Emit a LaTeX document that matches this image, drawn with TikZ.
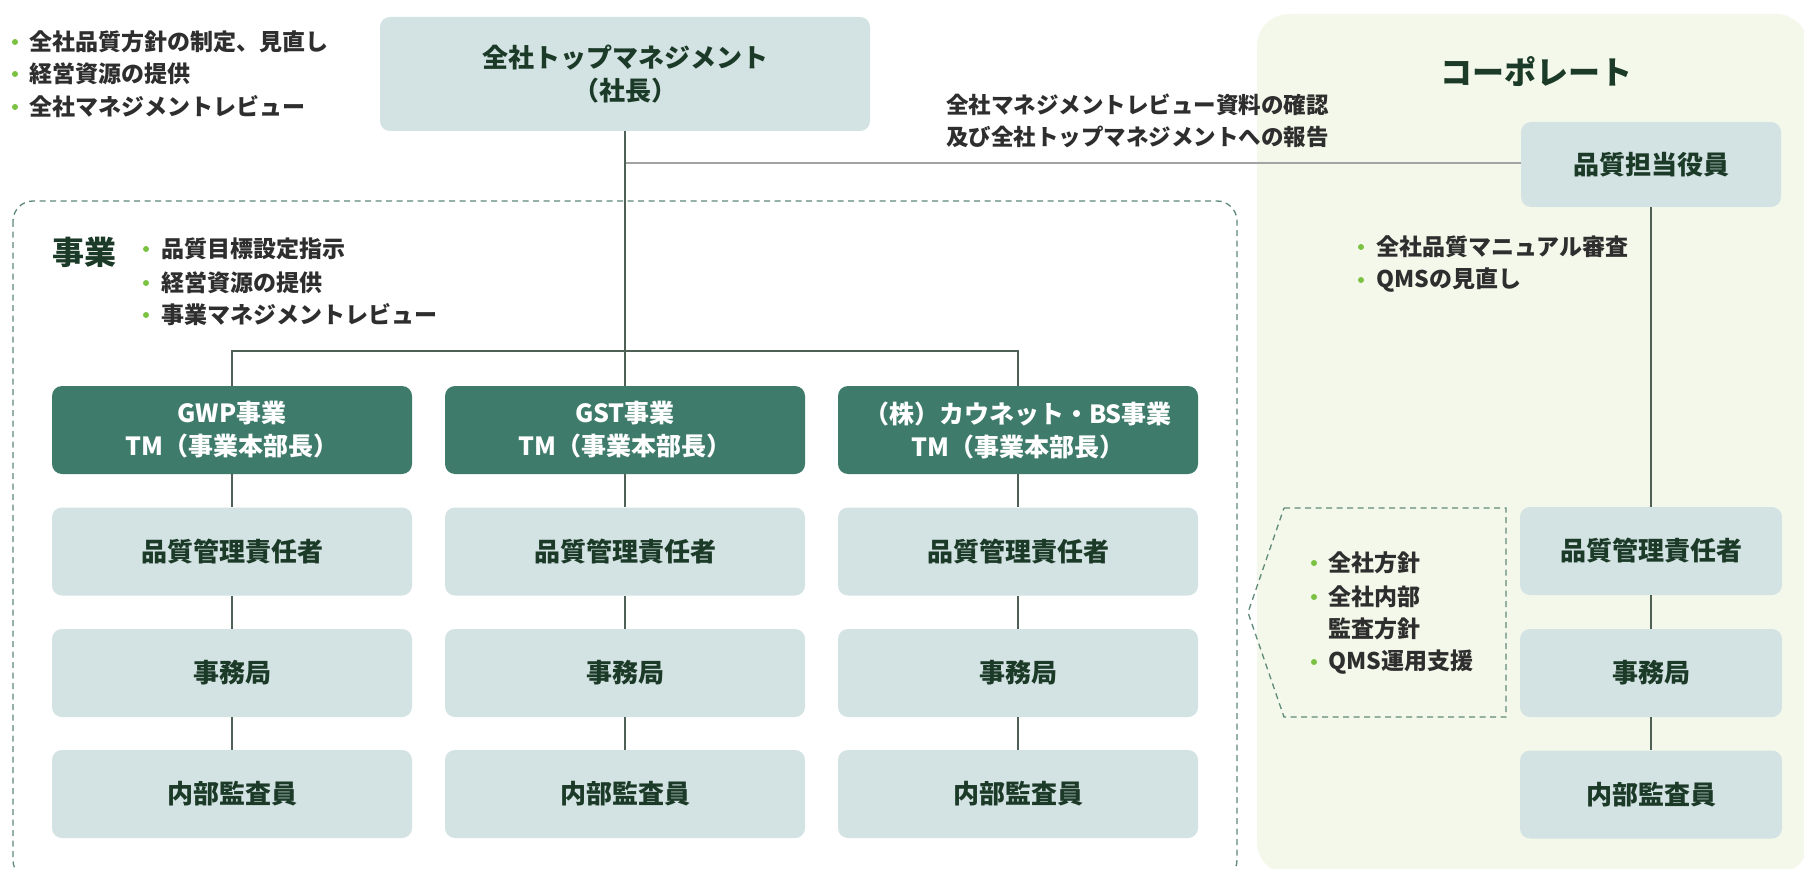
\documentclass[tikz,border=0pt]{standalone}
\usepackage{fontspec}
\setmainfont{Noto Sans CJK JP}
\definecolor{boxc}{HTML}{D3E2E2}
\definecolor{headc}{HTML}{3E7B6A}
\definecolor{darkt}{HTML}{1C3A28}
\definecolor{bullt}{HTML}{2E2E2E}
\definecolor{bulc}{HTML}{7CC242}
\definecolor{corpbg}{HTML}{F4F8EA}
\definecolor{linec}{HTML}{4F6157}
\definecolor{revc}{HTML}{A3A3A3}
\definecolor{dashc}{HTML}{5F8A7A}
\begin{document}
\begin{tikzpicture}[x=1pt,y=-1pt,
  lbox/.style={rounded corners=10pt, fill=boxc, minimum width=360pt, minimum height=88pt,
    font=\bfseries\fontsize{26}{33}\selectfont, text=darkt, align=center, inner sep=0pt},
  hbox/.style={lbox, fill=headc, text=white, font=\bfseries\fontsize{25}{33}\selectfont},
  cbox/.style={lbox, minimum width=262pt},
  conn/.style={draw=linec, line width=1.2pt},
  btxt/.style={anchor=west, font=\bfseries\fontsize{23}{30}\selectfont, text=bullt, inner sep=0pt},
  bdot/.style={fill=bulc},
  dashline/.style={draw=dashc, line width=1.3pt, dash pattern=on 6pt off 4.5pt}
]
\useasboundingbox (0,0) rectangle (1804,869);
\fill[white] (0,0) rectangle (1804,869);

% corporate background
\fill[corpbg, rounded corners=32pt] (1257,14) rectangle (1808,874);

% business dashed frame
\draw[dashline, rounded corners=20pt] (13,201) rectangle (1237,880);

% top management
\node[lbox, minimum width=490pt, minimum height=114pt] (top) at (625,74) {全社トップマネジメント\\（社長）};

% top-left bullets
\foreach \t/\y [count=\i] in {全社品質方針の制定、見直し/42, 経営資源の提供/74, 全社マネジメントレビュー/107}{
  \fill[bdot] (15,\y) circle (3pt);
  \node[btxt] (tl\i) at (29,\y) {\t};
}

% review label
\node[anchor=west, align=left, inner sep=0pt, text=bullt,
  font=\bfseries\fontsize{22.5}{32}\selectfont] (rev) at (946,121)
  {全社マネジメントレビュー資料の確認\\及び全社トップマネジメントへの報告};

% corporate
\node[font=\bfseries\fontsize{32}{36}\selectfont, text=darkt, inner sep=0pt] (corp) at (1536,72) {コーポレート};
\node[cbox, minimum width=260pt, minimum height=85pt] (qexec) at (1651,164.5) {品質担当役員};
\foreach \t/\y [count=\i] in {全社品質マニュアル審査/247, QMSの見直し/280}{
  \fill[bdot] (1361,\y) circle (3pt);
  \node[btxt] (cb\i) at (1376,\y) {\t};
}
\node[cbox] (cq) at (1651,551) {品質管理責任者};
\node[cbox] (cs) at (1651,673) {事務局};
\node[cbox] (ca) at (1651,794.5) {内部監査員};

% dashed pentagon
\draw[dashline] (1284,508) -- (1506,508) -- (1506,717) -- (1284,717) -- (1248,612.5) -- cycle;
\fill[bdot] (1314,563) circle (3pt);
\node[btxt] (p1) at (1328,563) {全社方針};
\fill[bdot] (1314,597) circle (3pt);
\node[btxt] (p2) at (1328,597) {全社内部};
\node[btxt] (p3) at (1328,629) {監査方針};
\fill[bdot] (1314,662) circle (3pt);
\node[btxt] (p4) at (1328,662) {QMS運用支援};

% business heading
\node[font=\bfseries\fontsize{32}{36}\selectfont, text=darkt, inner sep=0pt] (biz) at (84,252) {事業};
\foreach \t/\y [count=\i] in {品質目標設定指示/249, 経営資源の提供/283, 事業マネジメントレビュー/315}{
  \fill[bdot] (146,\y) circle (3pt);
  \node[btxt] (bb\i) at (161,\y) {\t};
}

% columns
\node[hbox] (h1) at (232,430) {GWP事業\\TM（事業本部長）};
\node[hbox] (h2) at (625,430) {GST事業\\TM（事業本部長）};
\node[hbox] (h3) at (1018,430) {（株）カウネット・BS事業\\TM（事業本部長）};
\foreach \c/\x in {1/232, 2/625, 3/1018}{
  \node[lbox] (q\c) at (\x,551.5) {品質管理責任者};
  \node[lbox] (s\c) at (\x,673) {事務局};
  \node[lbox] (a\c) at (\x,794) {内部監査員};
}

% connectors
\coordinate (bus) at (625,351);
\coordinate (revj) at (625,163);
\draw[draw=revc, line width=2.2pt] (revj) -- (qexec.west |- revj);
\draw[conn] (top.south) -- (h2.north);
\draw[conn] (h1.north) -- (h1.north |- bus) -- (h3.north |- bus) -- (h3.north);
\foreach \c in {1,2,3}{
  \draw[conn] (h\c.south) -- (q\c.north);
  \draw[conn] (q\c.south) -- (s\c.north);
  \draw[conn] (s\c.south) -- (a\c.north);
}
\draw[conn] (qexec.south) -- (cq.north);
\draw[conn] (cq.south) -- (cs.north);
\draw[conn] (cs.south) -- (ca.north);
\end{tikzpicture}
\end{document}
